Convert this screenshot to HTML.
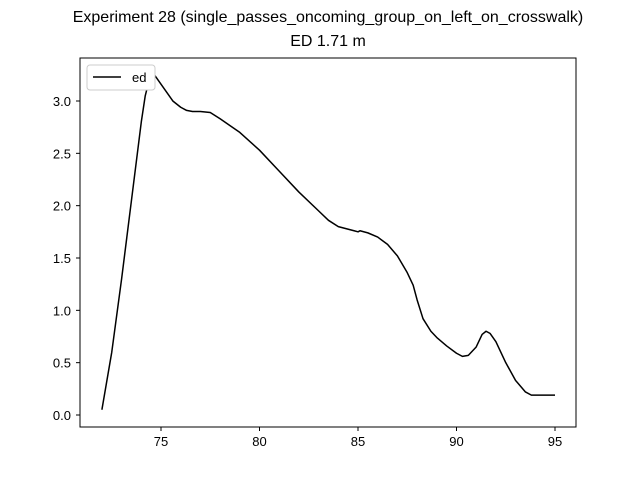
<!DOCTYPE html>
<html><head><meta charset="utf-8"><style>
body{margin:0;background:#fff}
svg text{font-family:"Liberation Sans","DejaVu Sans",sans-serif;fill:#000}
</style></head><body>
<svg id="chart" width="640" height="480">
<text x="328" y="22" text-anchor="middle" font-size="16">Experiment 28 (single_passes_oncoming_group_on_left_on_crosswalk)</text>
<text x="328" y="46" text-anchor="middle" font-size="16">ED 1.71 m</text>
<g id="axes"></g>
<rect x="80" y="58" width="496" height="369" fill="none" stroke="#000" stroke-width="1"/>
<g>
<rect x="87" y="65" width="68" height="25" rx="3" fill="#fff" stroke="#ccc"/>
<line x1="93" y1="77" x2="121" y2="77" stroke="#000" stroke-width="1.5"/>
<text x="132" y="82" font-size="13">ed</text>
</g>
</svg>
<script>
const xs=[72,72.5,73,73.5,74,74.2,74.4,74.55,74.7,75,75.3,75.6,76,76.3,76.6,77,77.5,78,79,80,81,82,83,83.5,84,84.8,85,85.1,85.5,86,86.5,87,87.5,87.8,88,88.3,88.7,89,89.5,90,90.3,90.6,91,91.3,91.5,91.7,92,92.5,93,93.5,93.8,94,95];
const ed=[0.05,0.6,1.3,2.05,2.8,3.05,3.2,3.26,3.24,3.16,3.08,3.0,2.94,2.91,2.9,2.9,2.89,2.83,2.7,2.53,2.33,2.13,1.95,1.86,1.8,1.76,1.75,1.76,1.74,1.7,1.63,1.52,1.36,1.24,1.1,0.92,0.8,0.74,0.66,0.59,0.56,0.57,0.65,0.77,0.8,0.78,0.7,0.5,0.33,0.22,0.19,0.19,0.19];
const xTicks=[75,80,85,90,95];
const yTicks=[0,0.5,1,1.5,2,2.5,3];
const yLabels=["0.0","0.5","1.0","1.5","2.0","2.5","3.0"];
const X=v=>161+(v-75)*19.7;
const Y=v=>415-v*104.67;
const NS="http://www.w3.org/2000/svg";
const g=document.getElementById('axes');
function mk(t,a){const e=document.createElementNS(NS,t);for(const k in a)e.setAttribute(k,a[k]);g.appendChild(e);return e;}
xTicks.forEach(v=>{
 const l=mk('line',{x1:X(v),x2:X(v),y1:427,y2:431,stroke:'#000'});
 
 
 const t=mk('text',{x:X(v),y:446,'text-anchor':'middle','font-size':13});t.textContent=v;
 
 
});
yTicks.forEach((v,i)=>{
 const l=mk('line',{x1:76,x2:80,y1:Y(v),y2:Y(v),stroke:'#000'});
 
 
 const t=mk('text',{x:71,y:Y(v)+5,'text-anchor':'end','font-size':13});t.textContent=yLabels[i];
 
 
});
const p=mk('polyline',{points:xs.map((x,i)=>X(x)+','+Y(ed[i])).join(' '),fill:'none',stroke:'#000','stroke-width':1.5,'stroke-linejoin':'round'});


</script>
</body></html>
